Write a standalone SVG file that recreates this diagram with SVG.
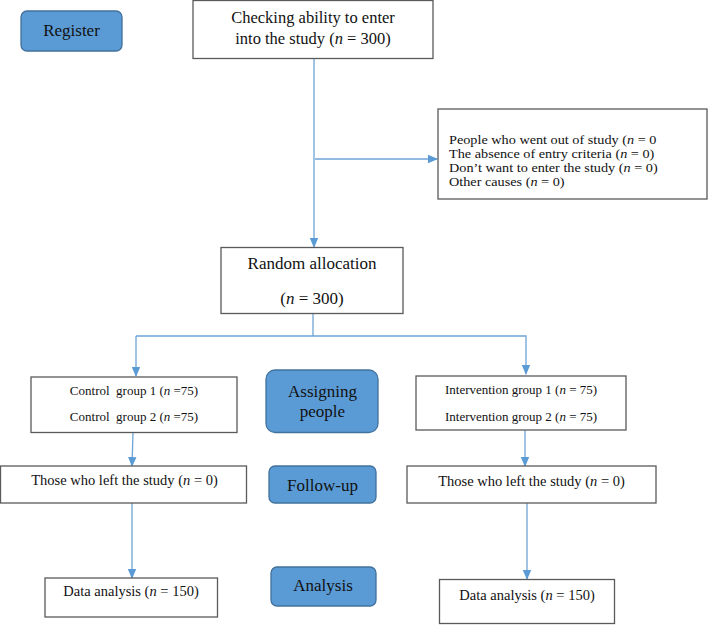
<svg xmlns="http://www.w3.org/2000/svg" width="709" height="625" viewBox="0 0 709 625">
<defs>
<style>
.box{fill:#fff;stroke:#5a5a5a;stroke-width:1.3}
.tag{fill:#5B9BD5;stroke:#41719C;stroke-width:1.3}
text{font-family:"Liberation Serif","Times New Roman",serif;fill:#111}
.c{text-anchor:middle}
.i{font-style:italic}
.ln{fill:none;stroke:#6FA3D6;stroke-width:1.3}
</style>
<marker id="ah" markerWidth="10" markerHeight="10" refX="9" refY="5" orient="auto" markerUnits="userSpaceOnUse">
<path d="M0,0.8 L10,5 L0,9.2 Z" fill="#5B9BD5"/>
</marker>
</defs>
<rect width="709" height="625" fill="#fff"/>

<g id="connectors">
<line class="ln" x1="314" y1="58" x2="314" y2="247" marker-end="url(#ah)"/>
<line class="ln" x1="315" y1="159" x2="437" y2="159" marker-end="url(#ah)"/>
<polyline class="ln" points="313,314 313,336"/>
<polyline class="ln" points="136,336 526,336 526,374" marker-end="url(#ah)"/>
<line class="ln" x1="136" y1="336" x2="136" y2="376" marker-end="url(#ah)"/>
<line class="ln" x1="133" y1="433" x2="132" y2="466" marker-end="url(#ah)"/>
<line class="ln" x1="525" y1="430" x2="525" y2="466" marker-end="url(#ah)"/>
<line class="ln" x1="132" y1="503" x2="132" y2="578" marker-end="url(#ah)"/>
<line class="ln" x1="527" y1="503" x2="527" y2="579" marker-end="url(#ah)"/>
</g>

<g id="register">
<rect class="tag" x="21" y="11" width="101" height="40" rx="6"/>
<text class="c" x="71.5" y="36" font-size="17">Register</text>
</g>

<g id="checking">
<rect class="box" x="193" y="0.5" width="240" height="58"/>
<text class="c" x="313" y="23" font-size="16.5">Checking ability to enter</text>
<text class="c" x="313" y="43.5" font-size="16.5">into the study (<tspan class="i">n</tspan> = 300)</text>
</g>

<g id="excluded">
<rect class="box" x="438" y="109" width="269" height="90"/>
<g transform="translate(449,0) scale(1.14,1)" font-size="12.5">
<text x="0" y="144">People who went out of study (<tspan class="i">n</tspan> = 0</text>
<text x="0" y="158">The absence of entry criteria (<tspan class="i">n</tspan> = 0)</text>
<text x="0" y="172">Don’t want to enter the study (<tspan class="i">n</tspan> = 0)</text>
<text x="0" y="186">Other causes (<tspan class="i">n</tspan> = 0)</text>
</g>
</g>

<g id="random">
<rect class="box" x="221" y="247.5" width="182" height="66"/>
<text class="c" x="312" y="268.5" font-size="17">Random allocation</text>
<text class="c" x="312" y="304" font-size="17">(<tspan class="i">n</tspan> = 300)</text>
</g>

<g id="control">
<rect class="box" x="31" y="377" width="206" height="55.5"/>
<text class="c" x="134" y="395" font-size="13" xml:space="preserve">Control  group 1 (<tspan class="i">n</tspan> =75)</text>
<text class="c" x="134" y="421" font-size="13" xml:space="preserve">Control  group 2 (<tspan class="i">n</tspan> =75)</text>
</g>

<g id="assigning">
<rect class="tag" x="266" y="370" width="112" height="62.5" rx="9"/>
<text class="c" x="322.5" y="396.5" font-size="17">Assigning</text>
<text class="c" x="322.5" y="416.5" font-size="17">people</text>
</g>

<g id="intervention">
<rect class="box" x="416" y="376" width="210" height="54"/>
<text class="c" x="521" y="394" font-size="13">Intervention group 1 (<tspan class="i">n</tspan> = 75)</text>
<text class="c" x="521" y="421" font-size="13">Intervention group 2 (<tspan class="i">n</tspan> = 75)</text>
</g>

<g id="left-followup">
<rect class="box" x="0.5" y="466" width="246" height="37"/>
<text class="c" x="124.5" y="485" font-size="14.5">Those who left the study (<tspan class="i">n</tspan> = 0)</text>
</g>

<g id="followup">
<rect class="tag" x="269" y="466" width="107" height="37" rx="6"/>
<text class="c" x="322.5" y="491" font-size="17">Follow-up</text>
</g>

<g id="right-followup">
<rect class="box" x="407" y="466" width="249" height="37"/>
<text class="c" x="531.5" y="486" font-size="14.5">Those who left the study (<tspan class="i">n</tspan> = 0)</text>
</g>

<g id="left-analysis">
<rect class="box" x="45" y="578" width="172.5" height="39"/>
<text class="c" x="131" y="596" font-size="14.5">Data analysis (<tspan class="i">n</tspan> = 150)</text>
</g>

<g id="analysis">
<rect class="tag" x="271" y="567" width="105" height="39" rx="6"/>
<text class="c" x="323" y="591" font-size="17">Analysis</text>
</g>

<g id="right-analysis">
<rect class="box" x="439.5" y="579.5" width="175" height="44"/>
<text class="c" x="527" y="600" font-size="14.5">Data analysis (<tspan class="i">n</tspan> = 150)</text>
</g>
</svg>
